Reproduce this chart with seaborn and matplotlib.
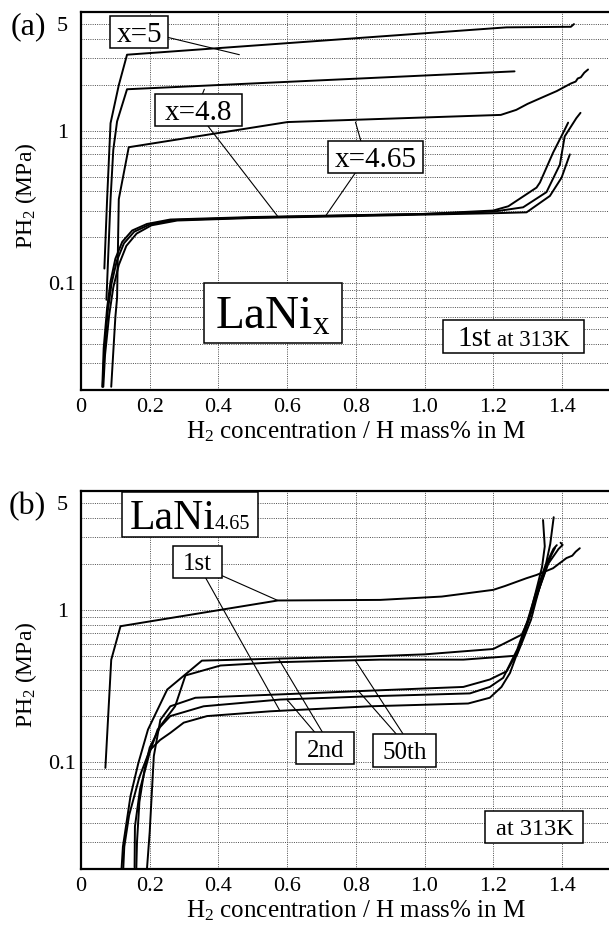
import numpy as np
import pandas as pd
import matplotlib
matplotlib.use("Agg")
import matplotlib.pyplot as plt
import seaborn as sns
from matplotlib.offsetbox import TextArea, HPacker, AnnotationBbox
from matplotlib.path import Path
from matplotlib.ticker import FixedLocator, FixedFormatter, FuncFormatter, NullLocator

# ---------------- data: panel (a) LaNi_x, 1st cycle at 313 K ----------------
a5_abs_h = [0.068, 0.076, 0.086, 0.110, 0.134, 1.239, 1.426, 1.435]
a5_abs_p = [0.125, 0.356, 1.12, 1.99, 3.15, 4.76, 4.80, 5.00]

a48_abs_h = [0.074, 0.086, 0.094, 0.105, 0.134, 1.262]
a48_abs_p = [0.078, 0.356, 0.75, 1.15, 1.87, 2.45]

a465_abs_h = [0.088, 0.100, 0.105, 0.110, 0.139, 0.601, 1.222, 1.267, 1.300,
              1.347, 1.385, 1.426, 1.440, 1.446, 1.455, 1.465, 1.476]
a465_abs_p = [0.021, 0.060, 0.080, 0.356, 0.78, 1.14, 1.27, 1.37, 1.50,
              1.67, 1.82, 2.04, 2.10, 2.20, 2.24, 2.40, 2.52]

a_des1_h = [0.062, 0.066, 0.076, 0.086, 0.100, 0.120, 0.149, 0.192, 0.26, 0.50,
            0.80, 1.00, 1.20, 1.287, 1.355, 1.394, 1.408, 1.442, 1.454]
a_des1_p = [0.021, 0.0376, 0.069, 0.103, 0.145, 0.187, 0.222, 0.245, 0.262, 0.272,
            0.280, 0.285, 0.295, 0.315, 0.396, 0.60, 0.918, 1.21, 1.31]

a_des2_h = [0.063, 0.068, 0.078, 0.089, 0.104, 0.125, 0.155, 0.20, 0.27, 0.50,
            0.80, 1.00, 1.20, 1.244, 1.326, 1.336, 1.374, 1.408, 1.418]
a_des2_p = [0.021, 0.036, 0.066, 0.100, 0.140, 0.183, 0.218, 0.243, 0.260, 0.270,
            0.279, 0.285, 0.300, 0.320, 0.424, 0.458, 0.717, 1.015, 1.13]

a_des3_h = [0.065, 0.070, 0.082, 0.094, 0.110, 0.132, 0.162, 0.205, 0.28, 0.50,
            0.80, 1.00, 1.20, 1.297, 1.365, 1.399, 1.423]
a_des3_p = [0.021, 0.034, 0.062, 0.094, 0.132, 0.176, 0.212, 0.240, 0.258, 0.268,
            0.276, 0.282, 0.288, 0.292, 0.374, 0.493, 0.70]

# ---------------- data: panel (b) LaNi4.65, cycles at 313 K ----------------
b1_abs_h = [0.071, 0.088, 0.115, 0.573, 0.871, 1.05, 1.20, 1.234, 1.297, 1.326,
            1.374, 1.413, 1.430, 1.440, 1.452]
b1_abs_p = [0.092, 0.47, 0.78, 1.15, 1.16, 1.22, 1.35, 1.43, 1.61, 1.69,
            1.87, 2.18, 2.26, 2.40, 2.53]

b2_abs_h = [0.118, 0.122, 0.144, 0.167, 0.195, 0.251, 0.352, 0.60, 0.842, 1.00,
            1.20, 1.283, 1.303, 1.318, 1.342, 1.350, 1.345]
b2_abs_p = [0.020, 0.028, 0.060, 0.099, 0.164, 0.300, 0.464, 0.480, 0.495, 0.510,
            0.553, 0.687, 0.86, 1.16, 1.90, 2.60, 3.87]

b50_abs_h = [0.156, 0.157, 0.172, 0.200, 0.223, 0.274, 0.304, 0.406, 0.570, 0.871,
             1.113, 1.268, 1.285, 1.310, 1.325, 1.352, 1.366, 1.376]
b50_abs_p = [0.0205, 0.038, 0.067, 0.116, 0.164, 0.233, 0.371, 0.431, 0.453, 0.471,
             0.471, 0.500, 0.62, 0.86, 1.16, 1.92, 2.70, 4.04]

b1_des_h = [0.123, 0.126, 0.140, 0.170, 0.200, 0.230, 0.260, 0.299, 0.367, 0.551,
            0.842, 1.127, 1.190, 1.224, 1.249, 1.280, 1.305, 1.330, 1.360, 1.390,
            1.402, 1.396]
b1_des_p = [0.020, 0.028, 0.045, 0.080, 0.120, 0.140, 0.156, 0.182, 0.201, 0.216,
            0.233, 0.243, 0.265, 0.312, 0.386, 0.60, 0.90, 1.30, 2.00, 2.50,
            2.66, 2.75]

b2_des_h = [0.161, 0.163, 0.170, 0.185, 0.200, 0.230, 0.260, 0.357, 0.580, 0.842,
            1.132, 1.190, 1.229, 1.270, 1.300, 1.320, 1.350, 1.375, 1.385]
b2_des_p = [0.020, 0.030, 0.055, 0.090, 0.125, 0.170, 0.201, 0.233, 0.258, 0.271,
            0.283, 0.312, 0.358, 0.55, 0.85, 1.20, 1.90, 2.50, 2.65]

b50_des_h = [0.192, 0.200, 0.212, 0.231, 0.260, 0.333, 0.600, 0.842, 1.113, 1.190,
             1.239, 1.265, 1.290, 1.310, 1.330, 1.355, 1.370, 1.380]
b50_des_p = [0.020, 0.035, 0.110, 0.190, 0.233, 0.265, 0.280, 0.295, 0.312, 0.349,
             0.395, 0.50, 0.70, 0.95, 1.30, 1.90, 2.30, 2.55]

# axis ticks
x_ticks = [0, 0.2, 0.4, 0.6, 0.8, 1.0, 1.2, 1.4]
x_tick_labels = ["0", "0.2", "0.4", "0.6", "0.8", "1.0", "1.2", "1.4"]
y_major = [0.1, 1]
y_major_labels = ["0.1", "1"]
y_minor = [0.03, 0.04, 0.05, 0.06, 0.07, 0.08, 0.09,
           0.2, 0.3, 0.4, 0.5, 0.6, 0.7, 0.8, 0.9, 2, 3, 4, 5]
y_minor_marked = [0.07, 0.08, 0.09, 0.8, 0.9, 4, 5]

curves_a = {
    "x=5 abs": (a5_abs_h, a5_abs_p),
    "x=4.8 abs": (a48_abs_h, a48_abs_p),
    "x=4.65 abs": (a465_abs_h, a465_abs_p),
    "des 1": (a_des1_h, a_des1_p),
    "des 2": (a_des2_h, a_des2_p),
    "des 3": (a_des3_h, a_des3_p),
}
curves_b = {
    "1st abs": (b1_abs_h, b1_abs_p),
    "2nd abs": (b2_abs_h, b2_abs_p),
    "50th abs": (b50_abs_h, b50_abs_p),
    "1st des": (b1_des_h, b1_des_p),
    "2nd des": (b2_des_h, b2_des_p),
    "50th des": (b50_des_h, b50_des_p),
}


def long_frame(curves):
    rows = []
    for name, (hs, ps) in curves.items():
        for i, (h, p) in enumerate(zip(hs, ps)):
            rows.append({"curve": name, "order": i, "H": h, "P": p})
    return pd.DataFrame(rows)


def at(curve, h):
    hs = np.asarray(curve[0]); ps = np.asarray(curve[1])
    m = hs <= 1.2
    return h, 10 ** np.interp(h, hs[m], np.log10(ps[m]))


# ---------------- style ----------------
sns.set_theme(style="white")
FAM = ["Liberation Serif", "DejaVu Serif"]
plt.rcParams["font.family"] = FAM
plt.rcParams["mathtext.fontset"] = "custom"
plt.rcParams["mathtext.rm"] = "Liberation Serif"
plt.rcParams["mathtext.it"] = "Liberation Serif:italic"
plt.rcParams["text.color"] = "black"
PX = 100 / 72.0

fig = plt.figure(figsize=(6.09, 9.26), dpi=100)
ax_a = fig.add_axes([81 / 609, 536 / 926, 528 / 609, 378 / 926])
ax_b = fig.add_axes([81 / 609, 57 / 926, 528 / 609, 378 / 926])


def fixed_box(w_px, h_px, dy_px):
    def style(x0, y0, width, height, mutation_size):
        cx = x0 + width / 2.0
        cy = y0 + height / 2.0 + dy_px
        v = [(cx - w_px / 2, cy - h_px / 2), (cx + w_px / 2, cy - h_px / 2),
             (cx + w_px / 2, cy + h_px / 2), (cx - w_px / 2, cy + h_px / 2),
             (cx - w_px / 2, cy - h_px / 2)]
        return Path(v, [Path.MOVETO, Path.LINETO, Path.LINETO, Path.LINETO, Path.CLOSEPOLY])
    return style


def add_box(ax, parts, center, size_px, sep=0):
    kids = [TextArea(t, textprops=dict(size=s, family=FAM, color="black")) for t, s in parts]
    pack = HPacker(children=kids, align="baseline", pad=0, sep=sep)
    big = max(s for _, s in parts)
    dy = 0.1 * big * PX
    ab = AnnotationBbox(pack, center, xycoords="data", xybox=(0, -dy / PX),
                        boxcoords="offset points", frameon=True,
                        box_alignment=(0.5, 0.5),
                        bboxprops=dict(boxstyle=fixed_box(size_px[0], size_px[1], dy),
                                       fc="white", ec="black", lw=1.1),
                        zorder=6)
    ax.add_artist(ab)


def pointer(ax, start, target):
    ax.annotate("", xy=target, xytext=start, xycoords="data", textcoords="data",
                arrowprops=dict(arrowstyle="-", lw=0.8, color="black",
                                shrinkA=0, shrinkB=0), zorder=4)


def style_axes(ax):
    ax.set_yscale("log")
    ax.set_xlim(0, 1.537)
    ax.set_ylim(0.02, 6)
    ax.xaxis.set_major_locator(FixedLocator(x_ticks))
    ax.xaxis.set_major_formatter(FixedFormatter(x_tick_labels))
    ax.xaxis.set_minor_locator(NullLocator())
    ax.yaxis.set_major_locator(FixedLocator(y_major))
    ax.yaxis.set_major_formatter(FixedFormatter(y_major_labels))
    ax.yaxis.set_minor_locator(FixedLocator(y_minor))
    ax.yaxis.set_minor_formatter(FuncFormatter(lambda v, p: "5" if abs(v - 5) < 1e-9 else ""))
    ax.tick_params(axis="both", which="both", direction="in", colors="black",
                   labelsize=16, top=False, right=False)
    ax.tick_params(axis="x", which="major", length=7, width=1.3, pad=6)
    ax.tick_params(axis="y", which="major", length=7, width=1.3, pad=13.5)
    ax.tick_params(axis="y", which="minor", length=3.5, width=1.0, pad=13.5)
    ax.set_axisbelow(True)
    grid_kw = dict(color="0.3", lw=0.7, ls=(0, (1, 1.3)))
    ax.grid(True, axis="x", which="major", **grid_kw)
    ax.grid(True, axis="y", which="both", **grid_kw)
    for sp in ["left", "top", "bottom"]:
        ax.spines[sp].set_color("black")
        ax.spines[sp].set_linewidth(1.6)
    ax.spines["right"].set_visible(False)
    ax.set_xlabel(r"H$_2$ concentration / H mass% in M", fontsize=18, color="black")
    ax.set_ylabel(r"PH$_2$ (MPa)", fontsize=17, color="black")
    ax.xaxis.set_label_coords(0.52, -0.079)
    ax.yaxis.set_label_coords(-0.079, 0.515)
    for lbl in ax.yaxis.get_majorticklabels() + ax.yaxis.get_minorticklabels():
        lbl.set_horizontalalignment("center")
    for tick, loc in zip(ax.yaxis.get_minor_ticks(), ax.yaxis.get_minorticklocs()):
        if not any(abs(loc - m) < 1e-9 for m in y_minor_marked):
            tick.tick1line.set_visible(False)


line_kw = dict(x="H", y="P", units="curve", estimator=None, sort=False,
               color="black", lw=1.4, legend=False)
sns.lineplot(data=long_frame(curves_a), ax=ax_a, **line_kw)
sns.lineplot(data=long_frame(curves_b), ax=ax_b, **line_kw)
style_axes(ax_a)
style_axes(ax_b)

# ---------------- annotations panel (a) ----------------
pointer(ax_a, (0.251, 4.10), at(curves_a["x=5 abs"], 0.461))
pointer(ax_a, (0.353, 1.73), at(curves_a["x=4.8 abs"], 0.359))
pointer(ax_a, (0.370, 1.07), at(curves_a["des 1"], 0.573))
pointer(ax_a, (0.815, 0.852), at(curves_a["x=4.65 abs"], 0.799))
pointer(ax_a, (0.799, 0.531), at(curves_a["des 2"], 0.712))

add_box(ax_a, [("x=5", 21)], (0.170, 4.46), (58, 32))
add_box(ax_a, [("x=4.8", 21)], (0.3416, 1.36), (87, 32))
add_box(ax_a, [("x=4.65", 21)], (0.858, 0.673), (95, 32))
add_box(ax_a, [(r"LaNi$_\mathrm{x}$", 34)], (0.559, 0.0638), (138, 60))
add_box(ax_a, [("1st", 21), ("at 313K", 16.5)], (1.258, 0.045), (141, 33), sep=4)

# ---------------- annotations panel (b) ----------------
pointer(ax_b, (0.411, 1.67), at(curves_b["1st abs"], 0.573))
pointer(ax_b, (0.362, 1.63), at(curves_b["1st des"], 0.579))
pointer(ax_b, (0.704, 0.156), at(curves_b["2nd abs"], 0.575))
pointer(ax_b, (0.682, 0.156), at(curves_b["2nd des"], 0.599))
pointer(ax_b, (0.937, 0.154), at(curves_b["50th abs"], 0.798))
pointer(ax_b, (0.917, 0.154), at(curves_b["50th des"], 0.808))

add_box(ax_b, [("LaNi", 30), ("4.65", 14.5)], (0.317, 4.18), (136, 45))
add_box(ax_b, [("1st", 18)], (0.340, 2.07), (49, 32))
add_box(ax_b, [("2nd", 18)], (0.711, 0.1235), (58, 32))
add_box(ax_b, [("50th", 18)], (0.943, 0.120), (63, 33))
add_box(ax_b, [("at 313K", 17.5)], (1.320, 0.0379), (98, 32))

fig.text(28 / 609, 1 - 27 / 926, "(a)", fontsize=23, ha="center", va="center", color="black")
fig.text(27 / 609, 1 - 507 / 926, "(b)", fontsize=23, ha="center", va="center", color="black")

fig.savefig("out.png", dpi=100)
